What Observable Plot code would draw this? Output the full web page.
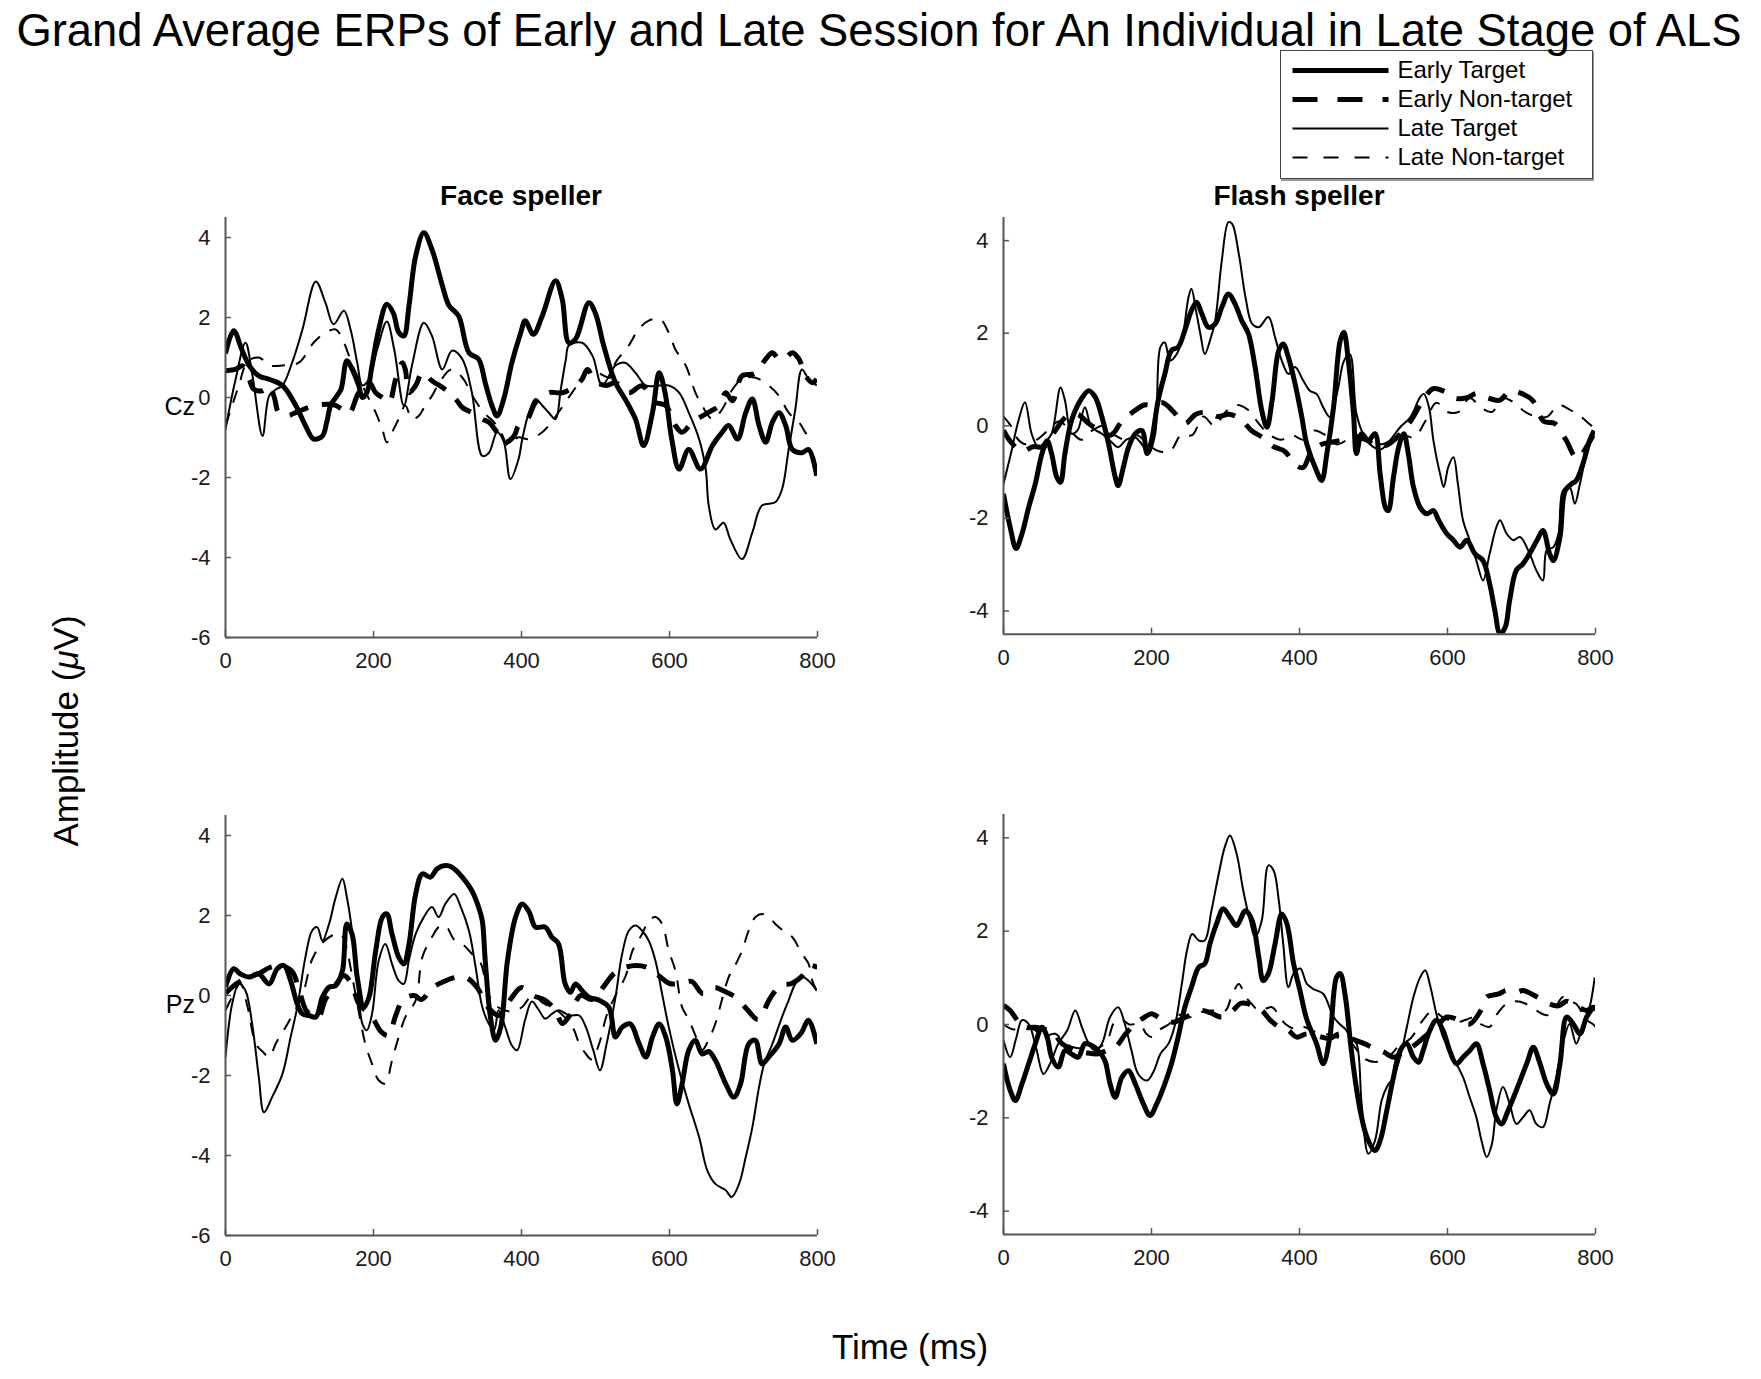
<!DOCTYPE html>
<html><head><meta charset="utf-8">
<script src="https://cdn.jsdelivr.net/npm/d3@7"></script>
<script src="https://cdn.jsdelivr.net/npm/@observablehq/plot@0.6"></script>
<style>
body{margin:0;background:#fff;}
#fig{position:relative;width:1761px;height:1379px;background:#fff;font-family:"Liberation Sans",Arial,Helvetica,sans-serif;color:#000;overflow:hidden}
.abs{position:absolute;white-space:nowrap;line-height:1}
</style></head><body><div id="fig"></div><script>
// ---------- DATA ----------
const seriesNames = ["Early Target","Early Non-target","Late Target","Late Non-target"];
const xTicks = [0,200,400,600,800];
const yTicksLeft = [-6,-4,-2,0,2,4];
const yTicksRight = [-4,-2,0,2,4];

// Cz, Face speller
const czFaceEarlyTarget = [[0,1.1],[11,1.67],[22,1.2],[32,0.8],[45,0.54],[60,0.45],[77,0.3],[95,-0.2],[108,-0.7],[119,-1.04],[131,-0.96],[137,-0.6],[142,-0.2],[149,0.0],[156,0.2],[164,0.92],[171,0.71],[180,0.3],[185,0.0],[191,0.12],[198,0.8],[207,1.7],[218,2.33],[227,2.1],[234,1.63],[241,1.54],[248,2.3],[257,3.54],[268,4.12],[279,3.7],[293,2.8],[302,2.3],[315,2.04],[329,1.12],[342,0.96],[351,0.37],[360,-0.2],[367,-0.46],[376,-0.04],[387,0.87],[399,1.62],[405,1.92],[416,1.58],[428,2.04],[446,2.92],[455,2.46],[464,1.37],[473,1.46],[491,2.37],[500,2.1],[511,1.3],[527,0.37],[540,-0.04],[554,-0.54],[565,-1.2],[577,-0.38],[586,0.62],[594,0.12],[603,-1.04],[613,-1.79],[626,-1.3],[642,-1.79],[658,-1.2],[671,-0.87],[680,-0.7],[692,-1.04],[703,-0.38],[712,-0.04],[721,-0.7],[730,-1.12],[739,-0.62],[748,-0.38],[757,-0.7],[766,-1.3],[779,-1.38],[788,-1.3],[799,-1.96]];
const czFaceEarlyNonTarget = [[0,0.67],[14,0.71],[23,0.79],[32,0.46],[38,0.21],[50,0.17],[59,0.29],[66,0.0],[72,-0.38],[85,-0.45],[92,-0.4],[105,-0.3],[120,-0.2],[140,-0.17],[149,-0.2],[158,-0.3],[167,-0.4],[180,0.12],[194,0.37],[203,0.12],[212,0.0],[221,-0.12],[230,0.46],[239,0.87],[243,0.7],[248,0.12],[257,0.3],[266,0.62],[279,0.42],[297,0.2],[311,-0.04],[320,-0.25],[333,-0.38],[347,-0.54],[356,-0.62],[367,-0.87],[378,-1.12],[390,-0.96],[396,-0.7],[408,-0.54],[419,-0.12],[437,0.12],[455,0.12],[473,0.29],[482,0.46],[489,0.7],[500,0.4],[515,0.3],[527,0.37],[545,0.12],[563,0.29],[581,-0.12],[595,-0.2],[608,-0.7],[617,-0.87],[631,-0.62],[650,-0.4],[667,-0.2],[676,0.12],[685,-0.08],[698,0.54],[715,0.6],[730,0.96],[739,1.12],[748,0.96],[757,1.0],[766,1.12],[775,0.96],[784,0.54],[793,0.37],[799,0.46]];
const czFaceLateTarget = [[0,-0.8],[13,0.4],[27,1.37],[36,0.6],[50,-0.96],[59,0.04],[68,0.2],[77,0.3],[90,0.87],[104,1.7],[122,2.9],[135,2.37],[146,1.83],[160,2.17],[169,1.7],[178,0.87],[185,0.3],[194,0.46],[205,1.2],[218,1.9],[228,1.2],[241,-0.2],[252,0.8],[268,1.87],[279,1.54],[293,0.7],[306,1.17],[320,0.96],[333,0.12],[347,-1.46],[356,-1.38],[367,-0.87],[376,-1.1],[385,-2.04],[396,-1.54],[401,-1.04],[410,-0.38],[419,-0.04],[428,-0.2],[437,-0.38],[446,-0.54],[453,0.2],[460,0.96],[464,1.3],[482,1.37],[496,1.04],[509,0.3],[527,0.8],[540,0.87],[554,0.62],[568,0.3],[586,0.3],[599,0.3],[613,0.12],[626,-0.38],[640,-1.04],[649,-1.8],[653,-2.7],[662,-3.3],[673,-3.13],[682,-3.54],[698,-4.04],[712,-3.37],[725,-2.7],[743,-2.62],[752,-2.3],[761,-1.3],[770,-0.3],[779,0.7],[788,0.46],[799,0.3]];
const czFaceLateNonTarget = [[0,-0.7],[9,-0.2],[18,0.3],[30,0.9],[45,1.0],[60,0.8],[77,0.8],[99,0.87],[119,1.37],[135,1.62],[149,1.7],[158,1.46],[167,1.04],[176,0.62],[185,0.3],[194,-0.04],[203,-0.38],[212,-0.8],[218,-1.12],[225,-0.87],[234,-0.54],[243,-0.2],[252,-0.54],[261,-0.46],[270,-0.2],[279,0.04],[290,0.4],[305,0.7],[320,0.5],[335,0.0],[350,-0.4],[362,-0.6],[373,-0.9],[382,-1.2],[395,-1.0],[410,-1.04],[428,-0.87],[445,-0.5],[460,-0.1],[475,0.3],[490,0.7],[505,0.6],[520,0.5],[527,0.87],[545,1.3],[558,1.7],[572,1.92],[587,1.96],[599,1.62],[608,1.2],[622,0.8],[635,0.12],[644,-0.2],[658,-0.54],[671,-0.3],[685,0.2],[698,0.46],[715,0.5],[734,0.3],[748,0.04],[761,-0.38],[775,-0.62],[788,-0.96],[799,-0.96]];

// Cz, Flash speller
const czFlashEarlyTarget = [[0,-1.47],[9,-2.19],[17,-2.65],[25,-2.33],[34,-1.76],[43,-1.25],[52,-0.6],[59,-0.32],[65,-0.6],[72,-1.11],[77,-1.22],[83,-0.6],[92,0.12],[104,0.55],[115,0.76],[124,0.62],[133,0.19],[142,-0.39],[151,-1.11],[155,-1.29],[162,-0.89],[169,-0.46],[178,-0.17],[187,-0.1],[194,-0.6],[200,-0.32],[209,0.55],[218,1.12],[227,1.63],[236,1.7],[245,2.06],[254,2.49],[261,2.67],[268,2.42],[277,2.13],[286,2.2],[295,2.56],[304,2.85],[313,2.63],[322,2.27],[331,1.99],[340,1.27],[349,0.33],[356,-0.03],[363,0.55],[372,1.63],[378,1.77],[385,1.48],[394,0.91],[403,0.2],[410,-0.4],[423,-0.97],[430,-1.18],[437,-0.6],[446,0.4],[455,1.84],[460,2.02],[466,1.41],[473,0.26],[477,-0.6],[484,-0.17],[493,-0.32],[502,-0.17],[509,-1.04],[516,-1.76],[520,-1.83],[527,-1.11],[534,-0.46],[541,-0.17],[547,-0.6],[554,-1.32],[563,-1.76],[572,-1.9],[581,-1.83],[588,-2.04],[599,-2.33],[608,-2.47],[617,-2.62],[626,-2.47],[637,-2.76],[648,-2.91],[657,-3.41],[664,-3.99],[671,-4.49],[678,-4.35],[684,-3.77],[693,-3.12],[702,-2.98],[711,-2.76],[721,-2.47],[729,-2.26],[738,-2.76],[743,-2.91],[752,-2.4],[759,-1.4],[768,-1.25],[774,-1.18],[783,-0.82],[792,-0.32],[798,-0.1]];
const czFlashEarlyNonTarget = [[0,-0.1],[10,-0.35],[25,-0.55],[40,-0.45],[55,-0.45],[70,-0.1],[85,0.2],[100,0.25],[115,0.05],[130,-0.1],[145,-0.2],[160,0.1],[175,0.3],[190,0.45],[200,0.45],[215,0.5],[230,0.3],[245,0.05],[260,0.25],[275,0.3],[290,0.2],[305,0.25],[320,0.15],[335,-0.1],[350,-0.25],[365,-0.45],[380,-0.55],[395,-0.85],[405,-0.9],[415,-0.6],[430,-0.4],[445,-0.35],[460,-0.3],[475,-0.25],[490,-0.3],[505,-0.45],[520,-0.4],[535,-0.2],[550,0.1],[565,0.5],[580,0.8],[595,0.75],[610,0.6],[625,0.6],[640,0.7],[655,0.6],[670,0.55],[685,0.75],[700,0.7],[715,0.55],[730,0.1],[745,0.05],[760,-0.3],[775,-0.7],[790,-0.4],[800,-0.1]];
const czFlashLateTarget = [[0,-1.25],[10,-0.6],[20,0.1],[29,0.51],[38,-0.17],[47,-0.46],[56,-0.35],[65,-0.17],[77,0.83],[83,0.55],[92,-0.17],[100,-0.1],[110,0.4],[119,-0.03],[133,-0.17],[144,-0.32],[155,-0.46],[166,-0.3],[178,-0.25],[187,-0.4],[196,-0.6],[205,-0.17],[212,1.7],[218,1.8],[225,1.41],[232,1.5],[241,1.84],[250,2.78],[254,2.96],[260,2.5],[266,1.99],[272,1.55],[279,1.84],[286,2.27],[295,3.57],[304,4.4],[309,4.36],[318,3.71],[327,2.78],[336,2.2],[345,2.13],[358,2.35],[367,1.91],[376,1.41],[385,1.12],[394,1.27],[405,0.98],[414,0.76],[423,0.69],[432,0.4],[441,0.19],[452,0.8],[460,1.4],[468,1.55],[477,0.26],[486,-0.17],[500,-0.46],[511,-0.5],[522,-0.32],[536,-0.03],[550,0.19],[563,0.62],[568,0.69],[575,0.4],[581,-0.32],[590,-1.04],[595,-1.32],[601,-0.89],[608,-0.68],[614,-1.25],[621,-2.04],[630,-2.47],[639,-2.91],[648,-3.34],[657,-2.76],[666,-2.19],[671,-2.04],[680,-2.33],[689,-2.47],[698,-2.4],[711,-2.76],[720,-3.12],[729,-3.34],[734,-2.69],[743,-2.62],[750,-2.33],[756,-1.4],[765,-1.32],[772,-1.68],[779,-1.25],[788,-0.6],[797,-0.17]];
const czFlashLateNonTarget = [[0,0.2],[10,0.0],[20,-0.3],[30,-0.4],[45,-0.3],[60,-0.1],[75,0.1],[90,-0.1],[105,-0.3],[120,-0.1],[135,0.0],[150,-0.2],[165,-0.3],[180,-0.2],[195,-0.4],[210,-0.55],[225,-0.55],[240,-0.2],[255,-0.2],[270,0.2],[285,0.0],[300,0.3],[315,0.45],[330,0.35],[345,0.05],[360,-0.2],[375,-0.3],[390,-0.2],[405,-0.3],[420,-0.1],[435,-0.2],[450,-0.4],[465,-0.3],[480,-0.2],[495,-0.3],[510,-0.4],[525,-0.3],[540,-0.2],[555,-0.25],[570,0.1],[585,0.5],[600,0.3],[615,0.3],[630,0.6],[645,0.4],[660,0.3],[675,0.6],[690,0.5],[705,0.3],[720,0.2],[735,0.2],[750,0.45],[765,0.35],[780,0.2],[795,0.0],[800,-0.05]];

// Pz, Face speller
const pzFaceEarlyTarget = [[0,0.21],[11,0.67],[20,0.54],[32,0.46],[45,0.54],[59,0.29],[70,0.67],[79,0.75],[88,0.37],[97,-0.21],[104,-0.46],[113,-0.5],[122,-0.54],[131,-0.04],[140,0.21],[149,0.25],[158,0.62],[164,1.79],[171,1.54],[178,0.46],[187,-0.29],[194,-0.04],[203,1.12],[212,1.96],[218,2.04],[225,1.54],[234,0.96],[241,0.79],[248,1.29],[257,2.54],[266,3.04],[277,2.96],[286,3.17],[297,3.25],[306,3.21],[320,2.96],[333,2.62],[342,2.21],[347,1.87],[351,0.87],[358,-0.54],[365,-1.12],[372,-0.79],[381,0.87],[392,1.96],[401,2.29],[410,2.1],[419,1.71],[432,1.71],[441,1.46],[450,1.29],[459,0.29],[466,0.08],[473,0.29],[482,0.12],[491,-0.04],[505,-0.12],[518,-0.29],[527,-1.04],[536,-0.79],[547,-0.71],[559,-1.21],[568,-1.54],[577,-1.04],[586,-0.71],[595,-1.04],[604,-1.87],[610,-2.71],[617,-2.21],[626,-1.37],[635,-1.12],[644,-1.46],[653,-1.4],[662,-1.62],[676,-2.21],[687,-2.54],[696,-2.21],[707,-1.21],[716,-1.12],[725,-1.71],[734,-1.54],[748,-1.21],[757,-0.79],[766,-1.12],[777,-0.96],[788,-0.62],[799,-1.21]];
const pzFaceEarlyNonTarget = [[0,0.05],[15,0.3],[30,0.45],[45,0.55],[60,0.7],[75,0.75],[90,0.6],[100,0.1],[110,-0.4],[125,-0.55],[135,-0.1],[150,0.3],[160,0.5],[170,0.3],[180,-0.2],[190,-0.4],[200,-0.6],[210,-0.9],[220,-1.0],[230,-0.5],[240,-0.1],[255,0.0],[265,-0.1],[280,0.2],[295,0.35],[310,0.45],[325,0.45],[340,0.2],[355,-0.3],[370,-0.5],[385,-0.1],[400,0.2],[415,0.0],[430,-0.1],[445,-0.35],[455,-0.7],[465,-0.5],[480,0.0],[495,-0.1],[510,0.2],[525,0.55],[540,0.7],[555,0.75],[570,0.7],[585,0.5],[600,0.3],[615,0.3],[630,0.35],[645,0.05],[660,0.2],[675,0.1],[690,-0.05],[705,-0.35],[720,-0.6],[735,-0.1],[750,0.25],[765,0.3],[780,0.5],[790,0.75],[800,0.7]];
const pzFaceLateTarget = [[0,-1.54],[9,-0.21],[18,0.29],[27,0.12],[36,-0.71],[45,-2.04],[52,-2.92],[63,-2.54],[77,-1.96],[88,-1.04],[97,-0.29],[108,0.96],[117,1.62],[124,1.71],[131,1.37],[140,1.79],[149,2.46],[158,2.92],[164,2.46],[171,1.62],[178,0.46],[185,-0.71],[191,-0.87],[198,-0.46],[207,0.87],[216,1.29],[225,0.79],[234,0.37],[241,0.29],[248,0.9],[257,1.54],[268,1.96],[279,2.21],[288,1.96],[297,2.29],[309,2.54],[318,2.21],[329,1.62],[338,0.71],[347,-0.29],[356,-0.71],[363,-0.87],[369,-0.37],[378,-0.79],[387,-1.25],[394,-1.37],[405,-0.6],[414,-0.15],[423,-0.35],[432,-0.58],[441,-0.46],[450,-0.37],[465,-0.5],[478,-0.5],[487,-0.79],[497,-1.37],[506,-1.87],[515,-1.21],[527,-0.04],[536,1.04],[545,1.62],[554,1.75],[563,1.62],[572,1.37],[581,0.87],[590,0.04],[599,-0.79],[613,-1.87],[626,-2.71],[640,-3.54],[651,-4.37],[662,-4.71],[676,-4.87],[684,-5.04],[694,-4.71],[703,-4.04],[712,-3.29],[721,-2.29],[728,-1.71],[739,-1.21],[752,-0.54],[761,-0.12],[770,0.29],[779,0.46],[788,0.37],[799,0.12]];
const pzFaceLateNonTarget = [[0,-0.37],[10,0.0],[20,0.3],[30,-0.3],[41,-1.21],[50,-1.4],[59,-1.54],[68,-1.2],[81,-0.8],[90,-0.5],[104,0.0],[117,0.9],[130,1.3],[144,1.5],[155,1.55],[162,1.3],[170,0.6],[178,-0.2],[189,-1.21],[198,-1.71],[207,-2.12],[216,-2.2],[225,-1.62],[234,-1.04],[243,-0.54],[257,-0.12],[266,0.96],[279,1.46],[288,1.71],[297,1.75],[309,1.4],[320,1.29],[335,1.0],[345,0.8],[356,0.0],[369,-0.3],[385,-0.4],[400,-0.3],[415,0.0],[430,-0.2],[450,-0.4],[469,-0.79],[478,-1.2],[487,-1.46],[495,-1.6],[505,-1.2],[515,-0.5],[527,0.0],[541,0.5],[550,1.12],[563,1.54],[572,1.87],[581,1.96],[590,1.79],[599,1.12],[608,0.62],[617,-0.29],[626,-0.6],[635,-1.0],[644,-1.37],[653,-1.1],[662,-0.7],[671,-0.1],[680,0.46],[690,0.8],[698,1.12],[707,1.62],[716,1.96],[725,2.04],[734,1.96],[743,1.79],[755,1.6],[766,1.46],[779,1.04],[788,0.79],[793,0.37],[799,0.12]];

// Pz, Flash speller
const pzFlashEarlyTarget = [[0,-0.84],[9,-1.41],[16,-1.63],[25,-1.27],[34,-0.84],[43,-0.41],[52,-0.06],[59,-0.27],[65,-0.7],[74,-0.91],[83,-0.56],[92,-0.63],[101,-0.7],[110,-0.41],[119,-0.45],[128,-0.56],[137,-0.77],[144,-1.27],[151,-1.56],[160,-1.13],[169,-0.99],[178,-1.27],[189,-1.7],[198,-1.95],[207,-1.7],[218,-1.27],[227,-0.84],[236,-0.27],[245,0.37],[254,0.8],[264,1.23],[272,1.3],[279,1.73],[288,2.16],[297,2.48],[306,2.3],[315,2.12],[327,2.44],[336,2.23],[345,1.44],[351,0.94],[358,1.09],[367,1.73],[376,2.37],[383,2.16],[392,1.3],[401,0.7],[410,0.1],[423,-0.41],[432,-0.84],[441,-0.27],[450,1.01],[455,1.09],[462,0.59],[469,-0.41],[476,-1.27],[482,-1.84],[491,-2.41],[502,-2.7],[509,-2.49],[518,-1.84],[527,-1.13],[536,-0.56],[545,-0.41],[554,-0.7],[561,-0.81],[567,-0.56],[576,-0.13],[585,0.09],[594,-0.13],[603,-0.56],[612,-0.84],[621,-0.7],[630,-0.56],[639,-0.41],[648,-0.84],[657,-1.41],[666,-1.99],[673,-2.13],[682,-1.84],[693,-1.41],[707,-0.84],[716,-0.49],[725,-0.84],[734,-1.27],[743,-1.49],[752,-0.84],[761,0.16],[770,0.01],[779,-0.2],[788,0.16],[797,0.37]];
const pzFlashEarlyNonTarget = [[0,0.41],[9,0.3],[18,0.1],[25,-0.06],[43,-0.06],[55,-0.1],[65,-0.13],[79,-0.41],[97,-0.56],[110,-0.6],[128,-0.63],[140,-0.55],[151,-0.49],[165,-0.2],[178,0.01],[190,0.15],[200,0.23],[215,0.1],[230,0.05],[245,0.15],[260,0.25],[268,0.3],[280,0.25],[295,0.16],[310,0.3],[320,0.45],[331,0.44],[340,0.35],[349,0.3],[360,0.1],[372,-0.05],[385,-0.13],[396,-0.27],[410,-0.2],[425,-0.25],[440,-0.3],[455,-0.2],[470,-0.3],[486,-0.4],[500,-0.5],[515,-0.6],[527,-0.7],[540,-0.6],[555,-0.45],[570,-0.25],[585,-0.05],[599,0.16],[615,0.1],[630,0.01],[645,0.3],[653,0.59],[668,0.65],[680,0.73],[695,0.7],[702,0.73],[720,0.6],[738,0.44],[750,0.4],[761,0.5],[774,0.4],[788,0.3],[797,0.37],[800,0.3]];
const pzFlashLateTarget = [[0,-0.34],[9,-0.7],[17,-0.3],[25,0.09],[34,0.01],[44,-0.5],[54,-1.06],[64,-0.8],[74,-0.41],[86,-0.13],[97,0.3],[106,-0.06],[115,-0.4],[124,-0.56],[133,-0.41],[144,0.16],[155,0.37],[164,0.01],[173,-0.56],[182,-1.06],[194,-1.2],[203,-1.0],[212,-0.63],[223,-0.41],[232,0.01],[241,0.87],[248,1.59],[255,1.94],[264,1.8],[272,1.8],[281,2.44],[290,3.16],[299,3.8],[306,4.05],[315,3.66],[324,2.87],[333,2.23],[340,1.87],[349,2.23],[358,3.41],[365,3.3],[372,2.66],[378,1.73],[385,0.8],[392,1.09],[401,1.2],[410,0.87],[420,0.75],[432,0.66],[446,0.16],[455,0.0],[462,-0.1],[470,-0.3],[477,-0.41],[484,-1.7],[493,-2.77],[502,-2.49],[511,-1.63],[518,-1.34],[527,-1.13],[536,-0.7],[545,-0.06],[554,0.59],[563,1.01],[570,1.16],[576,0.87],[585,0.23],[594,-0.27],[603,-0.56],[612,-0.84],[621,-1.13],[630,-1.56],[639,-1.99],[646,-2.49],[653,-2.84],[660,-2.56],[666,-1.84],[675,-1.34],[684,-1.7],[693,-2.13],[702,-1.99],[711,-1.84],[720,-2.13],[729,-2.2],[738,-1.7],[747,-1.13],[756,-0.41],[765,0.01],[774,-0.41],[783,0.0],[792,0.37],[799,1.01]];
const pzFlashLateNonTarget = [[0,0.0],[12,-0.1],[25,-0.1],[40,-0.1],[55,-0.25],[70,-0.2],[83,-0.4],[97,-0.5],[110,-0.5],[128,-0.5],[140,-0.35],[150,0.05],[160,0.1],[170,0.0],[184,0.01],[193,-0.2],[200,-0.27],[212,-0.1],[223,0.0],[235,0.2],[255,0.16],[270,0.28],[286,0.3],[300,0.3],[308,0.59],[318,0.87],[327,0.6],[335,0.45],[345,0.3],[363,0.37],[372,0.2],[381,0.01],[395,-0.1],[405,-0.05],[420,-0.15],[435,-0.2],[455,-0.3],[470,-0.4],[480,-0.6],[490,-0.75],[505,-0.8],[520,-0.7],[535,-0.45],[550,-0.3],[567,0.1],[580,0.3],[594,0.15],[612,0.05],[625,0.1],[636,0.15],[646,0.0],[657,-0.05],[666,0.2],[680,0.45],[693,0.5],[705,0.45],[720,0.3],[735,0.2],[745,0.35],[756,0.59],[765,0.5],[774,0.44],[788,0.1],[797,0.0],[800,-0.05]];

// ---------- STYLE ----------
const FONT = '"Liberation Sans", Arial, Helvetica, sans-serif';
const lineStyle = {
  "Early Target":     {strokeWidth: 5,   dash: null,    legendDash: null},
  "Early Non-target": {strokeWidth: 5,   dash: "20,14", legendDash: "25,20"},
  "Late Target":      {strokeWidth: 2,   dash: null,    legendDash: null},
  "Late Non-target":  {strokeWidth: 2,   dash: "13,11", legendDash: "15,16"}
};
const AXIS = "#555";
const fig = document.getElementById("fig");

function addText(txt, {left, top, size, weight = "normal", anchor = "start", html = false, rotate = 0}) {
  const d = document.createElement("div");
  d.className = "abs";
  if (html) d.innerHTML = txt; else d.textContent = txt;
  d.style.fontSize = size + "px";
  d.style.fontWeight = weight;
  d.style.left = left + "px";
  d.style.top = top + "px";
  const tx = anchor === "middle" ? "-50%" : anchor === "end" ? "-100%" : "0";
  d.style.transform = rotate ? `translate(-50%,-50%) rotate(${rotate}deg)` : `translateX(${tx})`;
  fig.appendChild(d);
}
function baselineTop(baseline, size) { return baseline - 0.8465 * size; }

function panel({data, yDomain, yTicks, axisLeft, axisTop, plotH}) {
  const plotW = 592, mL = 62, mR = 14, mT = 10, mB = 44;
  const lines = seriesNames.map((name, i) => Plot.line(data[i], {
    x: d => d[0], y: d => d[1], curve: "catmull-rom", clip: true,
    stroke: "#000", strokeWidth: lineStyle[name].strokeWidth,
    strokeDasharray: lineStyle[name].dash || undefined, strokeLinejoin: "round", strokeLinecap: "butt"
  }));
  const chart = Plot.plot({
    width: mL + plotW + mR, height: mT + plotH + mB,
    marginLeft: mL, marginRight: mR, marginTop: mT, marginBottom: mB,
    style: {fontFamily: FONT, fontSize: "22px", color: "#1a1a1a", background: "transparent", overflow: "visible"},
    x: {domain: [0, 800]},
    y: {domain: yDomain},
    marks: [
      Plot.axisX({ticks: xTicks, tickSize: 0, tickPadding: 15, tickFormat: d => String(d), label: null}),
      Plot.axisY({ticks: yTicks, tickSize: 0, tickPadding: 15, tickFormat: d => String(d), label: null}),
      ...lines,
      Plot.ruleX([0], {stroke: AXIS, strokeWidth: 2}),
      Plot.ruleY([yDomain[0]], {stroke: AXIS, strokeWidth: 2}),
      Plot.tickX(xTicks, {x: d => d, insetTop: plotH - 6, stroke: AXIS, strokeWidth: 1.5}),
      Plot.tickY(yTicks, {y: d => d, insetRight: plotW - 6, stroke: AXIS, strokeWidth: 1.5})
    ]
  });
  chart.style.position = "absolute";
  chart.style.left = (axisLeft - mL) + "px";
  chart.style.top = (axisTop - mT) + "px";
  fig.appendChild(chart);
}

// Panels
panel({data: [czFaceEarlyTarget, czFaceEarlyNonTarget, czFaceLateTarget, czFaceLateNonTarget],
  yDomain: [-6, 4.5], yTicks: yTicksLeft, axisLeft: 225, axisTop: 216.7, plotH: 420});
panel({data: [czFlashEarlyTarget, czFlashEarlyNonTarget, czFlashLateTarget, czFlashLateNonTarget],
  yDomain: [-4.5, 4.5], yTicks: yTicksRight, axisLeft: 1003.3, axisTop: 216.8, plotH: 416.7});
panel({data: [pzFaceEarlyTarget, pzFaceEarlyNonTarget, pzFaceLateTarget, pzFaceLateNonTarget],
  yDomain: [-6, 4.5], yTicks: yTicksLeft, axisLeft: 225, axisTop: 815, plotH: 420});
panel({data: [pzFlashEarlyTarget, pzFlashEarlyNonTarget, pzFlashLateTarget, pzFlashLateNonTarget],
  yDomain: [-4.5, 4.5], yTicks: yTicksRight, axisLeft: 1003.3, axisTop: 814, plotH: 420});

// Legend (drawn with Plot)
const legendW = 313, legendH = 129;
const legendPlot = Plot.plot({
  width: legendW, height: legendH,
  marginLeft: 12, marginRight: 205, marginTop: 19, marginBottom: 21,
  x: {domain: [0, 1], axis: null},
  y: {type: "point", domain: seriesNames, axis: null, padding: 0},
  style: {fontFamily: FONT, fontSize: "24px", background: "transparent", overflow: "visible"},
  marks: [
    ...seriesNames.map(name => Plot.link([name], {
      x1: 0, x2: 1, y1: d => d, y2: d => d, stroke: "#000",
      strokeWidth: lineStyle[name].strokeWidth, strokeDasharray: lineStyle[name].legendDash || undefined
    })),
    Plot.text(seriesNames, {x: 1, y: d => d, text: d => d, textAnchor: "start", dx: 9, fill: "#000", fontSize: 24})
  ]
});
legendPlot.style.position = "absolute";
legendPlot.style.left = "1280px";
legendPlot.style.top = "50px";
fig.appendChild(legendPlot);
const box = document.createElement("div");
box.style.cssText = `position:absolute;left:1280px;top:50px;width:${legendW}px;height:${legendH}px;box-sizing:border-box;border:1.5px solid #444;box-shadow:1px 2px 0 #999;`;
fig.appendChild(box);

// Texts
addText("Grand Average ERPs of Early and Late Session for An Individual in Late Stage of ALS",
  {left: 879, top: baselineTop(46, 45.4), size: 45.4, anchor: "middle"});
addText("Face speller", {left: 521, top: baselineTop(206, 28), size: 28, weight: "bold", anchor: "middle"});
addText("Flash speller", {left: 1299, top: baselineTop(206, 28), size: 28, weight: "bold", anchor: "middle"});
addText("Cz", {left: 195, top: baselineTop(415, 25), size: 25, anchor: "end"});
addText("Pz", {left: 195, top: baselineTop(1013, 25), size: 25, anchor: "end"});
addText("Time (ms)", {left: 910, top: baselineTop(1359, 35), size: 35, anchor: "middle"});
addText('Amplitude (<i>μ</i>V)', {left: 65, top: 731, size: 35, html: true, rotate: -90});
</script></body></html>
